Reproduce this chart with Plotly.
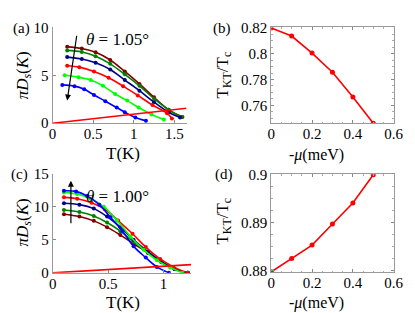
import plotly.graph_objects as go

# ---------- Panel (a): theta = 1.05 ----------
a_colors = ["#800000", "#008000", "#00008B", "#FF0000", "#00FF00", "#0000FF"]
a_T = [
    [0.18, 0.36, 0.53, 0.71, 0.89, 1.07, 1.25, 1.43, 1.60],
    [0.18, 0.36, 0.53, 0.71, 0.89, 1.07, 1.25, 1.43, 1.59],
    [0.18, 0.36, 0.53, 0.71, 0.89, 1.07, 1.25, 1.43, 1.57],
    [0.18, 0.33, 0.51, 0.69, 0.87, 1.05, 1.23, 1.41, 1.47],
    [0.15, 0.32, 0.47, 0.62, 0.77, 0.92, 1.06, 1.22, 1.37],
    [0.12, 0.27, 0.39, 0.51, 0.65, 0.79, 0.89, 1.02, 1.15],
]
a_D = [
    [7.97, 7.8, 7.4, 6.6, 5.4, 4.1, 2.7, 1.4, 0.66],
    [7.6, 7.44, 7.0, 6.2, 5.1, 3.9, 2.56, 1.4, 0.66],
    [6.9, 6.7, 6.3, 5.6, 4.5, 3.4, 2.2, 1.15, 0.6],
    [6.0, 5.85, 5.4, 4.75, 3.87, 2.9, 1.9, 1.05, 0.5],
    [5.0, 4.8, 4.5, 3.9, 3.05, 2.36, 1.64, 0.92, 0.4],
    [4.0, 3.87, 3.54, 2.95, 2.3, 1.64, 1.15, 0.6, 0.26],
]
a_line_T = [0, 1.65]
a_line_D = [0, 1.57]

# ---------- Panel (c): theta = 1.00 ----------
c_colors = ["#800000", "#008000", "#00008B", "#FF0000", "#00FF00", "#0000FF"]
c_T = [
    [0.10, 0.24, 0.37, 0.49, 0.61, 0.73, 0.86, 0.98, 1.10, 1.22],
    [0.10, 0.24, 0.37, 0.49, 0.61, 0.73, 0.86, 0.98, 1.10, 1.22],
    [0.10, 0.24, 0.37, 0.49, 0.61, 0.73, 0.86, 0.98, 1.10, 1.22],
    [0.10, 0.22, 0.35, 0.47, 0.59, 0.72, 0.84, 0.97, 1.09, 1.22],
    [0.10, 0.22, 0.34, 0.46, 0.58, 0.70, 0.82, 0.94, 1.06, 1.17],
    [0.10, 0.21, 0.31, 0.42, 0.52, 0.63, 0.73, 0.84, 0.94, 1.05],
]
c_D = [
    [8.85, 8.5, 7.85, 6.9, 5.7, 4.4, 3.0, 1.6, 0.6, 0.0],
    [9.5, 9.2, 8.6, 7.6, 6.3, 4.7, 3.1, 1.7, 0.6, 0.0],
    [10.5, 10.3, 9.7, 8.5, 6.9, 5.0, 3.2, 1.7, 0.6, 0.0],
    [11.4, 11.2, 10.6, 9.6, 7.9, 5.9, 3.9, 2.1, 0.9, 0.0],
    [12.15, 11.9, 11.2, 10.0, 7.9, 5.5, 3.5, 1.9, 0.8, 0.0],
    [12.4, 12.3, 11.6, 10.3, 8.4, 6.3, 4.0, 2.3, 0.9, 0.0],
]
c_line_T = [0, 1.25]
c_line_D = [0, 1.25]

# ---------- Panels (b), (d) ----------
mu = [0, 0.1, 0.2, 0.3, 0.4, 0.5]
b_ratio = [0.8200, 0.8137, 0.8005, 0.7856, 0.7664, 0.7461]
d_ratio = [0.8797, 0.8825, 0.8853, 0.8897, 0.8941, 0.9000]

FONT = "Times New Roman, Liberation Serif, serif"
W, H = 415, 313

fig = go.Figure()

for T, D, col in zip(a_T, a_D, a_colors):
    fig.add_trace(go.Scatter(x=T, y=D, mode="lines+markers", xaxis="x", yaxis="y",
                             line=dict(color=col, width=1.6, shape="spline"),
                             marker=dict(color=col, size=4), showlegend=False))
fig.add_trace(go.Scatter(x=a_line_T, y=a_line_D, mode="lines", xaxis="x", yaxis="y",
                         line=dict(color="#FF0000", width=1.6), showlegend=False))

fig.add_trace(go.Scatter(x=mu, y=b_ratio, mode="lines+markers", xaxis="x2", yaxis="y2",
                         line=dict(color="#FF0000", width=1.6),
                         marker=dict(color="#FF0000", size=5), showlegend=False))

for T, D, col in zip(c_T, c_D, c_colors):
    fig.add_trace(go.Scatter(x=T, y=D, mode="lines+markers", xaxis="x3", yaxis="y3",
                             line=dict(color=col, width=1.6, shape="spline"),
                             marker=dict(color=col, size=4), showlegend=False))
fig.add_trace(go.Scatter(x=c_line_T, y=c_line_D, mode="lines", xaxis="x3", yaxis="y3",
                         line=dict(color="#FF0000", width=1.6), showlegend=False))

fig.add_trace(go.Scatter(x=mu, y=d_ratio, mode="lines+markers", xaxis="x4", yaxis="y4",
                         line=dict(color="#FF0000", width=1.6),
                         marker=dict(color="#FF0000", size=5), showlegend=False))

def px(x):
    return x / W

def py(y):
    return 1 - y / H

tickfont = dict(family=FONT, size=15, color="black")

def open_axis(domain, rng, tickvals, anchor, standoff=0):
    return dict(domain=domain, range=rng, tickvals=tickvals, ticks="inside", ticklen=3,
                tickcolor="#888", showline=True, linecolor="#999", linewidth=1,
                mirror=False, showgrid=False, zeroline=False, tickfont=tickfont,
                anchor=anchor, ticklabelstandoff=standoff)

def box_axis(domain, rng, tickvals, anchor, ticktext=None, dtick_minor=None, standoff=0):
    d = dict(domain=domain, range=rng, tickvals=tickvals, ticks="inside", ticklen=3,
             tickcolor="#888", showline=True, linecolor="#999", linewidth=1,
             mirror="ticks", showgrid=False, zeroline=False, tickfont=tickfont,
             anchor=anchor, ticklabelstandoff=standoff)
    if ticktext is not None:
        d["ticktext"] = ticktext
    if dtick_minor is not None:
        d["minor"] = dict(dtick=dtick_minor, ticks="inside", ticklen=1.5, tickcolor="#aaa")
    return d

yA = [py(113), py(12)]
yC = [py(270.7), py(166)]
yD = [py(269.8), py(166.8)]

fig.update_layout(
    width=W, height=H, margin=dict(l=0, r=0, t=0, b=0),
    paper_bgcolor="white", plot_bgcolor="white",
    font=dict(family=FONT, color="black"),
    xaxis=open_axis([px(42), px(180.6)], [0, 1.65], [0, 0.5, 1, 1.5], "y", standoff=-3),
    yaxis=open_axis(yA, [0, 10], [0, 5, 10], "x"),
    xaxis2=box_axis([px(268.3), px(395)], [0, 0.6], [0, 0.2, 0.4, 0.6], "y2",
                    dtick_minor=0.05, standoff=-3),
    yaxis2=box_axis(yA, [0.7461, 0.8204], [0.76, 0.78, 0.8, 0.82], "x2",
                    ticktext=["0.76", "0.78", "0.8", "0.82"], dtick_minor=0.005),
    xaxis3=open_axis([px(42.3), px(185.4)], [0, 1.25], [0, 0.5, 1], "y3", standoff=-3),
    yaxis3=open_axis(yC, [0, 15], [0, 5, 10, 15], "x3"),
    xaxis4=box_axis([px(268.3), px(395)], [0, 0.6], [0, 0.2, 0.4, 0.6], "y4",
                    dtick_minor=0.05, standoff=-3),
    yaxis4=box_axis(yD, [0.87967, 0.9001], [0.88, 0.89, 0.9], "x4",
                    ticktext=["0.88", "0.89", "0.9"], dtick_minor=0.0025),
)

def ann(x, y, text, size=17, angle=0):
    fig.add_annotation(x=px(x), y=py(y), xref="paper", yref="paper", text=text,
                       showarrow=False, textangle=angle,
                       font=dict(family=FONT, size=size, color="black"),
                       xanchor="center", yanchor="middle")

# panel labels
ann(10, 13, "(a)", 15)
ann(217, 13, "(b)", 15)
ann(8, 167, "(c)", 15)
ann(219, 167, "(d)", 15)

# axis titles
ann(115, 145, "T(K)", 17)
ann(115, 302, "T(K)", 17)
ann(315, 146, "-<i>μ</i>(meV)", 16)
ann(315, 302, "-<i>μ</i>(meV)", 16)
ann(12, 63, "<i>π</i><i>D</i><sub><i>s</i></sub>(<i>K</i>)", 17, -90)
ann(12, 218, "<i>π</i><i>D</i><sub><i>s</i></sub>(<i>K</i>)", 17, -90)
ann(219, 62, "T<sub>KT</sub>/T<sub>c</sub>", 17, -90)
ann(219, 216, "T<sub>KT</sub>/T<sub>c</sub>", 17, -90)

# theta labels in data coords (left-anchored)
fig.add_annotation(x=0.39, y=8.7, xref="x", yref="y", text="<i>θ</i> = 1.05°",
                   showarrow=False, xanchor="left",
                   font=dict(family=FONT, size=17, color="black"))
fig.add_annotation(x=0.28, y=11.6, xref="x3", yref="y3", text="<i>θ</i> = 1.00°",
                   showarrow=False, xanchor="left",
                   font=dict(family=FONT, size=17, color="black"))

# arrows
fig.add_annotation(x=0.18, y=2.36, ax=0.30, ay=9.28, xref="x", yref="y", axref="x", ayref="y",
                   text="", showarrow=True, arrowhead=2, arrowsize=1, arrowwidth=1.2,
                   arrowcolor="black")
fig.add_annotation(x=0.163, y=13.9, ax=0.163, ay=7.27, xref="x3", yref="y3", axref="x3", ayref="y3",
                   text="", showarrow=True, arrowhead=2, arrowsize=1, arrowwidth=1.2,
                   arrowcolor="black")

fig.write_html("out.html")
